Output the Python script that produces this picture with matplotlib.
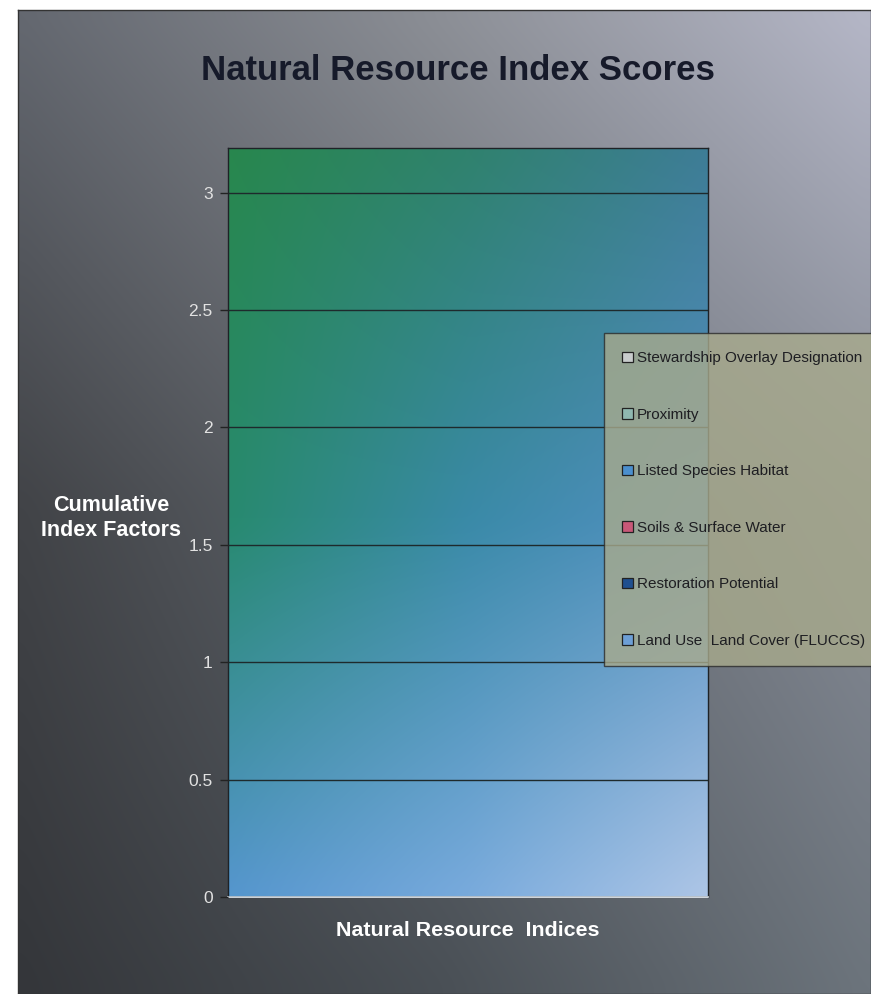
import numpy as np
import matplotlib
matplotlib.use("Agg")
import matplotlib.pyplot as plt

# ---- data ----
categories = ["Natural Resource  Indices"]
series_names = [
    "Land Use  Land Cover (FLUCCS)",
    "Restoration Potential",
    "Soils & Surface Water",
    "Listed Species Habitat",
    "Proximity",
    "Stewardship Overlay Designation",
]
series_values = [0, 0, 0, 0, 0, 0]   # no bars are visible in the reference
series_colors = ["#6d9fd6", "#1f4f8f", "#c85878", "#4b8fce", "#8fb8b0", "#c8cccc"]
yticks = [0, 0.5, 1, 1.5, 2, 2.5, 3]
ymax = 3.19

plt.rcParams['font.family'] = ['Liberation Sans', 'DejaVu Sans']

W, H = 871, 994
fig = plt.figure(figsize=(W / 100, H / 100), dpi=100)
fig.patch.set_facecolor("white")


def bilinear(grid, ny, nx):
    grid = np.asarray(grid, dtype=float) / 255.0
    gy, gx = grid.shape[0], grid.shape[1]
    ys = np.linspace(0, gy - 1, ny)
    xs = np.linspace(0, gx - 1, nx)
    out = np.zeros((ny, nx, 3))
    for c in range(3):
        tmp = np.array([np.interp(xs, np.arange(gx), grid[j, :, c]) for j in range(gy)])
        out[:, :, c] = np.array([np.interp(ys, np.arange(gy), tmp[:, i]) for i in range(nx)]).T
    return out


# background (chart area) gradient
bg = fig.add_axes([18 / W, 0, 1 - 18 / W, 1 - 10 / H], zorder=-10)
bg_grid = [
    [(100, 104, 112), (140, 143, 150), (180, 182, 198)],
    [(66, 68, 72), (100, 105, 112), (132, 137, 148)],
    [(52, 54, 58), (74, 80, 86), (108, 116, 124)],
]
bg.imshow(bilinear(bg_grid, 60, 60), extent=[0, 1, 0, 1], aspect="auto", interpolation="bicubic")
bg.set_xlim(0, 1); bg.set_ylim(0, 1)
for s in bg.spines.values():
    s.set_color("#333333"); s.set_linewidth(1.0)
bg.set_xticks([]); bg.set_yticks([])

# plot area
L, R, T, B = 228, 708, 148, 897
ax = fig.add_axes([L / W, 1 - B / H, (R - L) / W, (B - T) / H])
pa_grid = [
    [(40, 135, 78), (48, 130, 110), (62, 125, 150)],
    [(40, 138, 112), (58, 138, 168), (85, 145, 195)],
    [(85, 150, 205), (120, 170, 220), (172, 197, 230)],
]
ax.imshow(bilinear(pa_grid, 60, 60), extent=[-0.5, 0.5, 0, ymax], aspect="auto",
          interpolation="bicubic", zorder=0)

x = np.arange(len(categories))
bottom = np.zeros(len(categories))
for name, val, col in zip(series_names, series_values, series_colors):
    v = np.array([val], dtype=float)
    ax.bar(x, v, bottom=bottom, width=0.6, color=col, linewidth=0,
           label=name, zorder=3)
    bottom += v

ax.set_xlim(-0.5, 0.5)
ax.set_ylim(0, ymax)
ax.set_yticks(yticks)
ax.set_yticklabels([f"{t:g}" for t in yticks], color="#e2e2e2", fontsize=12.5)
ax.set_xticks([])
ax.yaxis.grid(True, color="#1e2a2c", linewidth=1.0, zorder=1)
ax.set_axisbelow(False)
ax.tick_params(axis="y", length=6, width=1, color="#222222", pad=5)
for side in ["left", "top", "right"]:
    ax.spines[side].set_color("#1e2226"); ax.spines[side].set_linewidth(1.0)
ax.spines["bottom"].set_color("#e8eef4"); ax.spines["bottom"].set_linewidth(1.2)

fig.text(458 / W, 1 - 70 / H, "Natural Resource Index Scores", ha="center", va="center",
         fontsize=25, fontweight="bold", color="#161a2a")
fig.text(111 / W, 1 - 518 / H, "Cumulative\nIndex Factors", ha="center", va="center",
         fontsize=15.5, fontweight="bold", color="white", linespacing=1.25)
fig.text(468 / W, 1 - 930 / H, categories[0], ha="center", va="center",
         fontsize=15.4, fontweight="bold", color="white")

handles, labels = ax.get_legend_handles_labels()
leg = fig.legend(handles[::-1], labels[::-1], loc="upper left",
                 bbox_to_anchor=(604 / W, 1 - 333 / H), fontsize=11,
                 frameon=True, fancybox=False, handlelength=0.7, handleheight=0.7,
                 handletextpad=0.25, labelspacing=2.78, borderpad=1.2,
                 borderaxespad=0)
leg.get_frame().set_facecolor("#a8aa8c")
leg.get_frame().set_edgecolor("#2a2a2a")
leg.get_frame().set_linewidth(1.0)
for h in leg.legend_handles:
    h.set_edgecolor("#222222"); h.set_linewidth(0.9)
for t in leg.get_texts():
    t.set_color("#1e1e22")

fig.savefig("out.png", dpi=100)
